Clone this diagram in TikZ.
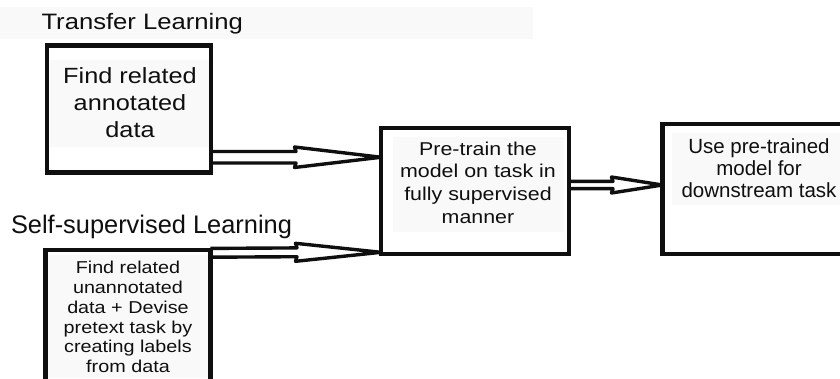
\documentclass[tikz,border=0pt]{standalone}
\usepackage{fontspec}
\setmainfont{Liberation Sans}
\newfontfamily\wide[FakeStretch=1.15]{Liberation Sans}
\usetikzlibrary{calc}
\definecolor{hl}{RGB}{250,249,249}
\definecolor{ink}{RGB}{15,15,15}
% #1 start, #2 tip, #3 shaft half width, #4 head half width, #5 head length
\newcommand\fatarrow[5]{%
  \draw[fat] ($(#1)+(0,-#3)$) -- ($(#2)+(-#5,-#3)$) -- ($(#2)+(-#5-1.5,-#4)$) -- (#2)
    -- ($(#2)+(-#5-1.5,#4)$) -- ($(#2)+(-#5,#3)$) -- ($(#1)+(0,#3)$);}
\begin{document}
\begin{tikzpicture}[x=1pt,y=-1pt,
  box/.style={draw=ink,line width=4.4pt,rectangle,inner sep=0pt,outer sep=0pt},
  lbl/.style={inner sep=0pt,outer sep=0pt,text=ink,align=center},
  fat/.style={draw=ink,line width=3.4pt,line join=round,line cap=butt}]
\useasboundingbox (0,0) rectangle (840,378);
\clip (0,0) rectangle (840,378);
\fill[white] (0,0) rectangle (840,378);
% faint highlight areas
\fill[hl] (0,7) rectangle (533,39);
\fill[hl] (50,60) rectangle (209,147);
\fill[hl] (48,255) rectangle (208,378);
\fill[hl] (393,137) rectangle (564,232);
\fill[hl] (672,133) rectangle (840,205);
% boxes
\node[box,minimum width=164pt,minimum height=127pt] (b1) at (129,109) {};
\node[box,minimum width=165pt,minimum height=150pt] (b2) at (128,325) {};
\node[box,minimum width=188pt,minimum height=126pt] (b3) at (475,191) {};
\node[box,minimum width=200pt,minimum height=130pt] (b4) at (762.5,189) {};
% headings
\node[lbl,anchor=north west,font=\wide\fontsize{22.3}{26}\selectfont] (h1) at (41.5,13) {Transfer Learning};
\node[lbl,anchor=north west,font=\fontsize{25.4}{30}\selectfont] (h2) at (11,215.5) {Self-supervised Learning};
% box texts
\node[lbl,anchor=north,font=\wide\fontsize{22}{26.7}\selectfont] (t1) at (130,68) {Find related\\annotated\\data};
\node[lbl,anchor=north,font=\wide\fontsize{17.2}{19.7}\selectfont] (t2) at (128,261.5) {Find related\\unannotated\\data + Devise\\pretext task by\\creating labels\\from data};
\node[lbl,anchor=north,font=\wide\fontsize{18.6}{22.8}\selectfont] (t3) at (478,141.7) {Pre-train the\\model on task in\\fully supervised\\manner};
\node[lbl,anchor=north,font=\fontsize{20.5}{22}\selectfont] (t4) at (759,138.3) {Use pre-trained\\model for\\downstream task};
% connector end points
\coordinate (s1) at (b1.east |- 0,157.25);
\coordinate (e1) at (b3.west |- 0,157.25);
\coordinate (s2) at (b2.east |- 0,252.8);
\coordinate (e2) at (b3.west |- 0,252.3);
\coordinate (s3) at (b3.east |- 0,185);
\coordinate (e3) at (b4.west |- 0,185);
\fatarrow{s1}{e1}{5.75}{10.25}{85}
\fatarrow{s2}{e2}{4.4}{9}{84}
\fatarrow{s3}{e3}{3.6}{8}{49.5}
\end{tikzpicture}
\end{document}
